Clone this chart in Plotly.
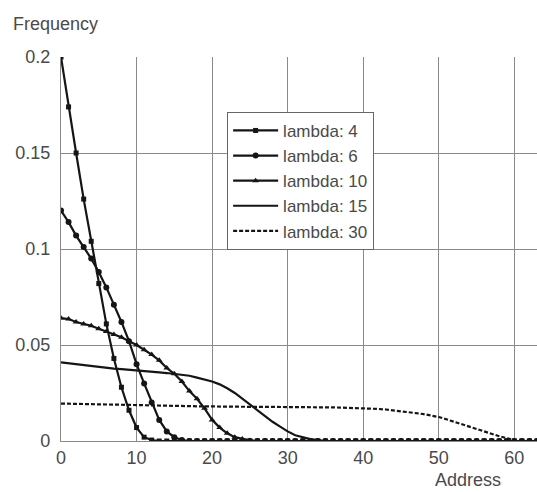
import plotly.graph_objects as go

address = list(range(64))

lam4 = [0.200, 0.174, 0.150, 0.126, 0.104, 0.082, 0.061, 0.043, 0.028, 0.016,
        0.007, 0.002, 0.0005] + [0.0] * 51
lam6 = [0.120, 0.114, 0.107, 0.101, 0.095, 0.088, 0.080, 0.071, 0.062, 0.052,
        0.040, 0.030, 0.020, 0.011, 0.005, 0.002, 0.0005] + [0.0] * 47
lam10 = [0.064, 0.0635, 0.062, 0.061, 0.060, 0.0585, 0.057, 0.0555, 0.054, 0.052,
         0.050, 0.0475, 0.045, 0.042, 0.038, 0.035, 0.031, 0.026, 0.022, 0.017,
         0.011, 0.007, 0.004, 0.002, 0.001, 0.0003] + [0.0] * 38
lam15 = [0.041, 0.0405, 0.040, 0.0395, 0.039, 0.0385, 0.038, 0.0377, 0.0374, 0.037,
         0.0367, 0.0364, 0.036, 0.0357, 0.0354, 0.035, 0.0346, 0.034, 0.033, 0.032,
         0.031, 0.0295, 0.0275, 0.025, 0.022, 0.019, 0.016, 0.013, 0.010, 0.0075,
         0.005, 0.003, 0.002, 0.001, 0.0005] + [0.0] * 29
lam30 = [0.0195, 0.0194, 0.0193, 0.0192, 0.0191, 0.019, 0.0189, 0.0188, 0.0187, 0.0186,
         0.0185, 0.0184, 0.0183, 0.0183, 0.0182, 0.0182, 0.0181, 0.0181, 0.018, 0.018,
         0.018, 0.0179, 0.0179, 0.0179, 0.0178, 0.0178, 0.0178, 0.0178, 0.0178, 0.0178,
         0.0178, 0.0177, 0.0177, 0.0176, 0.0176, 0.0175, 0.0175, 0.0174, 0.0173, 0.0173,
         0.0172, 0.0170, 0.0167, 0.0164, 0.016, 0.0155, 0.015, 0.0145, 0.014, 0.0133,
         0.0125, 0.0113, 0.010, 0.0088, 0.0075, 0.0062, 0.005, 0.0038, 0.0025, 0.0015,
         0.0005, 0.0, 0.0, 0.0]

series = [
    ("lambda: 4", lam4, "lines+markers", "square", 5, "solid"),
    ("lambda: 6", lam6, "lines+markers", "circle", 6, "solid"),
    ("lambda: 10", lam10, "lines+markers", "triangle-up", 6, "solid"),
    ("lambda: 15", lam15, "lines", None, 0, "solid"),
    ("lambda: 30", lam30, "lines", None, 0, "4px,2px"),
]

ink = "#151515"
fig = go.Figure()
for i, (name, vals, mode, sym, msize, dash) in enumerate(series):
    kw = dict(x=address, y=vals, name=name, mode=mode, legendgroup=f"g{i}",
              line=dict(color=ink, width=2.2, dash=dash))
    if sym:
        kw["marker"] = dict(symbol=sym, size=msize, color=ink)
    fig.add_trace(go.Scatter(**kw))

grid = "#8a8a8a"
txt = "#4a4a4a"
fam = "Liberation Sans, Arial, sans-serif"
fig.update_layout(
    width=537, height=492,
    margin=dict(l=61, r=0, t=57, b=51),
    paper_bgcolor="white", plot_bgcolor="white",
    font=dict(family=fam, size=18, color=txt),
    showlegend=True,
    legend=dict(x=0.349, y=0.857, xanchor="left", yanchor="top",
                bgcolor="white", bordercolor="#666666", borderwidth=1,
                font=dict(size=17, color=txt), tracegroupgap=0,
                itemwidth=45),
    xaxis=dict(range=[0, 63], tickvals=[0, 10, 20, 30, 40, 50, 60],
               showgrid=True, gridcolor=grid, gridwidth=1.2,
               showline=True, linecolor=grid, linewidth=1.2,
               zeroline=False, ticks="", tickfont=dict(size=18, color=txt)),
    yaxis=dict(range=[0, 0.2], tickvals=[0, 0.05, 0.1, 0.15, 0.2],
               ticktext=["0", "0.05", "0.1", "0.15", "0.2"],
               showgrid=True, gridcolor=grid, gridwidth=1.2,
               showline=True, linecolor=grid, linewidth=1.2, mirror=True,
               zeroline=False, ticks="", ticklabelstandoff=6,
               tickfont=dict(size=18, color=txt)),
    annotations=[
        dict(text="Frequency", xref="paper", yref="paper", x=-0.105, y=1.085,
             xanchor="left", yanchor="middle", showarrow=False,
             font=dict(size=18, color=txt)),
        dict(text="Address", xref="paper", yref="paper", x=0.855, y=-0.102,
             xanchor="center", yanchor="middle", showarrow=False,
             font=dict(size=18, color=txt)),
    ],
)

fig.write_html("out.html")
